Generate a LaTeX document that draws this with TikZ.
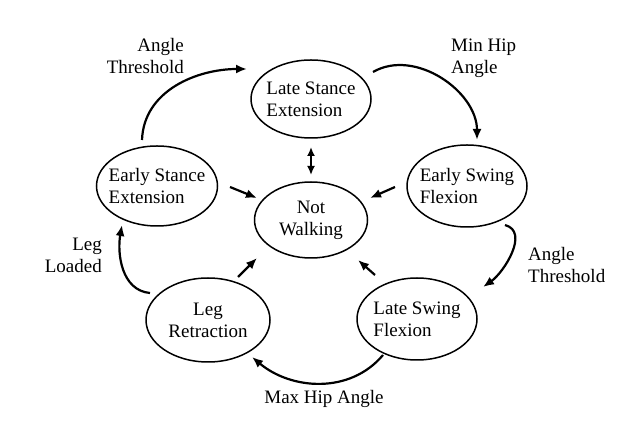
\documentclass[tikz,border=0pt]{standalone}
\usepackage{fontspec}
\setmainfont{Liberation Serif}
\usetikzlibrary{shapes.geometric,arrows.meta}
\begin{document}
\begin{tikzpicture}[x=1pt,y=1pt,
  txt/.style={inner sep=0pt,font=\fontsize{19}{22}\selectfont},
  state/.style={ellipse,draw,line width=1.5pt,inner sep=0pt},
  ltxt/.style={txt,align=left},
  ctxt/.style={txt,align=center},
  lbl/.style={txt,text depth=0pt},
  arr/.style={line width=2.2pt,-{Latex[length=11pt,width=9pt]}},
  darr/.style={line width=2.2pt,{Latex[length=9pt,width=8pt]}-{Latex[length=9pt,width=8pt]}}]
\useasboundingbox (0,0) rectangle (636,425);
% states
\node[state,minimum width=120,minimum height=78,label={[ltxt]center:Late Stance\\Extension}] (ls) at (311,326) {};
\node[state,minimum width=120,minimum height=82,label={[ltxt]center:Early Swing\\Flexion}] (esf) at (467,239) {};
\node[state,minimum width=121,minimum height=80,label={[ltxt]center:Early Stance\\Extension}] (est) at (157,239) {};
\node[state,minimum width=113,minimum height=76,label={[ctxt]center:Not\\Walking}] (nw) at (311,205) {};
\node[state,minimum width=124,minimum height=84,label={[ctxt]center:Leg\\Retraction}] (lr) at (208,105) {};
\node[state,minimum width=120,minimum height=82,label={[ltxt]center:Late Swing\\Flexion}] (lsf) at (417,106) {};
% transition labels
\node[lbl,align=right,anchor=east] (t1) at (184,369) {Angle\\Threshold};
\node[lbl,align=left,anchor=west] (t2) at (451,369) {Min Hip\\Angle};
\node[lbl,align=left,anchor=west] (t3) at (528,160) {Angle\\Threshold};
\node[lbl,align=right,anchor=east] (t4) at (102,170) {Leg\\Loaded};
\node[lbl] (t5) at (324,28) {Max Hip Angle};
% cycle
\draw[arr] ([shift={(-15,46)}]est.center) to[out=88,in=180] ([shift={(-64,30)}]ls.center);
\draw[arr] ([shift={(62,27)}]ls.center) to[out=30,in=90] ([shift={(10,46)}]esf.center);
\draw[arr] ([shift={(38,-39)}]esf.center) to[out=-15,in=35] ([shift={(66,32)}]lsf.center);
\draw[arr] ([shift={(-34,-36)}]lsf.center) to[out=-130,in=-40] ([shift={(44,-37)}]lr.center);
\draw[arr] ([shift={(-58,27)}]lr.center) to[out=175,in=-100] ([shift={(-35,-39)}]est.center);
% to Not Walking
\draw[darr] ([shift={(0,-48)}]ls.center) -- ([shift={(0,45)}]nw.center);
\draw[arr] ([shift={(73,-1)}]est.center) -- ([shift={(-54,22)}]nw.center);
\draw[arr] ([shift={(-72,-1)}]esf.center) -- ([shift={(59,22)}]nw.center);
\draw[arr] ([shift={(30,43)}]lr.center) -- ([shift={(-54,-38)}]nw.center);
\draw[arr] ([shift={(-42,44)}]lsf.center) -- ([shift={(47,-40)}]nw.center);
\end{tikzpicture}
\end{document}
